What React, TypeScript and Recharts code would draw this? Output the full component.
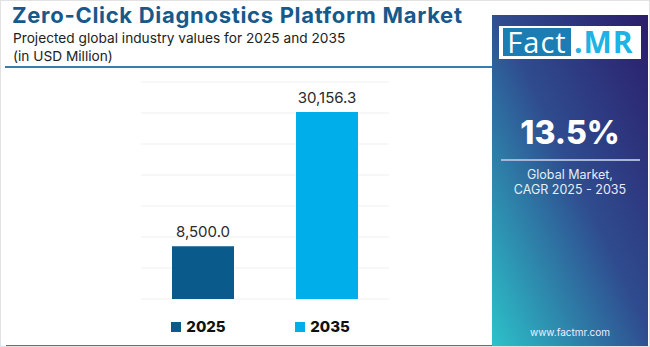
import React from 'react';
import { BarChart, Bar, XAxis, YAxis, CartesianGrid, LabelList, Cell, Legend } from 'recharts';

const years = ['2025', '2035'];
const values = [8500.0, 30156.3];
const barColors = ['#0b5a8c', '#00aeea'];
const yTicks = [0, 5000, 10000, 15000, 20000, 25000, 30000, 35000];

const data = years.map((y, i) => ({ year: y, value: values[i] }));

const fmt = (v: number) =>
  v.toLocaleString('en-US', { minimumFractionDigits: 1, maximumFractionDigits: 1 });

const LegendContent = () => (
  <div style={{ display: 'flex', width: '100%' }}>
    {years.map((y, i) => (
      <div
        key={y}
        style={{
          flex: 1,
          display: 'flex',
          alignItems: 'center',
          justifyContent: 'center',
          paddingRight: 9,
        }}
      >
        <span style={{ width: 10, height: 10, background: barColors[i], display: 'inline-block', marginRight: 5 }} />
        <span style={{ fontFamily: 'Inter, sans-serif', fontWeight: 800, fontSize: 15, color: '#111' }}>{y}</span>
      </div>
    ))}
  </div>
);

export default function App() {
  return (
    <div
      style={{
        position: 'fixed',
        left: 0,
        top: 0,
        width: 650,
        height: 347,
        background: '#fff',
        overflow: 'hidden',
        fontFamily: 'Inter, sans-serif',
        boxSizing: 'border-box',
        border: '1px solid #e2e2e2',
      }}
    >
      <div style={{ position: 'absolute', left: 0, top: 0 }}>
        <BarChart width={650} height={347} data={data} margin={{ top: 81, left: 140, right: 262, bottom: 49 }}>
          <CartesianGrid vertical={false} stroke="#efefef" />
          <XAxis dataKey="year" hide />
          <YAxis hide domain={[0, 35000]} ticks={yTicks} />
          <Legend
            verticalAlign="middle"
            align="center"
            layout="horizontal"
            content={<LegendContent />}
            wrapperStyle={{ left: 140, top: 316, width: 248 }}
          />
          <Bar dataKey="value" barSize={62} isAnimationActive={false}>
            {data.map((d, i) => (
              <Cell key={d.year} fill={barColors[i]} />
            ))}
            <LabelList
              dataKey="value"
              position="top"
              offset={9}
              formatter={(v: any) => fmt(Number(v))}
              style={{ fill: '#2a2a2a', fontSize: 15, fontFamily: 'Inter, sans-serif' }}
            />
          </Bar>
        </BarChart>
      </div>

      <div
        style={{
          position: 'absolute',
          left: 11,
          top: 1,
          fontSize: 22,
          fontWeight: 700,
          letterSpacing: 0.7,
          color: '#17598b',
          whiteSpace: 'nowrap',
        }}
      >
        Zero-Click Diagnostics Platform Market
      </div>
      <div style={{ position: 'absolute', left: 12, top: 28, fontSize: 13.7, color: '#222', lineHeight: '18px' }}>
        Projected global industry values for 2025 and 2035
        <br />
        (in USD Million)
      </div>
      <div style={{ position: 'absolute', left: 4, top: 65, width: 488, height: 2, background: '#3b7bab' }} />
      <div style={{ position: 'absolute', left: 5, top: 344, width: 488, height: 2, background: '#3b7bab' }} />

      <div
        style={{
          position: 'absolute',
          left: 491,
          top: 14,
          width: 156,
          height: 332,
          background: 'linear-gradient(to bottom left, #2b1d6a 0%, #2f4c8f 48%, #2cc2c9 100%)',
        }}
      >
        <div
          style={{
            position: 'absolute',
            left: 7,
            top: 11,
            width: 142,
            height: 33,
            background: '#fff',
          }}
        >
          <div
            style={{
              position: 'absolute',
              left: 4,
              top: 2,
              width: 68,
              height: 28,
              background: '#1b7db3',
              color: '#fff',
              fontFamily: 'Open Sans, sans-serif',
              fontSize: 29,
              letterSpacing: 1,
              lineHeight: '28px',
              textAlign: 'center',
            }}
          >
            Fact
          </div>
          <div
            style={{
              position: 'absolute',
              left: 75,
              top: 2,
              color: '#1fb3e3',
              fontFamily: 'Open Sans, sans-serif',
              fontWeight: 700,
              fontSize: 30,
              letterSpacing: 1,
              lineHeight: '28px',
            }}
          >
            .MR
          </div>
        </div>
        <div
          style={{
            position: 'absolute',
            left: 0,
            width: 156,
            top: 98,
            textAlign: 'center',
            color: '#fff',
            fontSize: 32,
            fontWeight: 800,
          }}
        >
          13.5%
        </div>
        <div style={{ position: 'absolute', left: 9, top: 144, width: 139, height: 2, background: '#a7b5d6' }} />
        <div
          style={{
            position: 'absolute',
            left: 0,
            width: 156,
            top: 152,
            textAlign: 'center',
            color: '#e6edf5',
            fontSize: 12.5,
            lineHeight: '15px',
          }}
        >
          Global Market,
          <br />
          CAGR 2025 - 2035
        </div>
        <div
          style={{
            position: 'absolute',
            left: 0,
            width: 156,
            top: 311,
            textAlign: 'center',
            color: '#eef',
            fontSize: 10,
          }}
        >
          www.factmr.com
        </div>
      </div>
    </div>
  );
}
